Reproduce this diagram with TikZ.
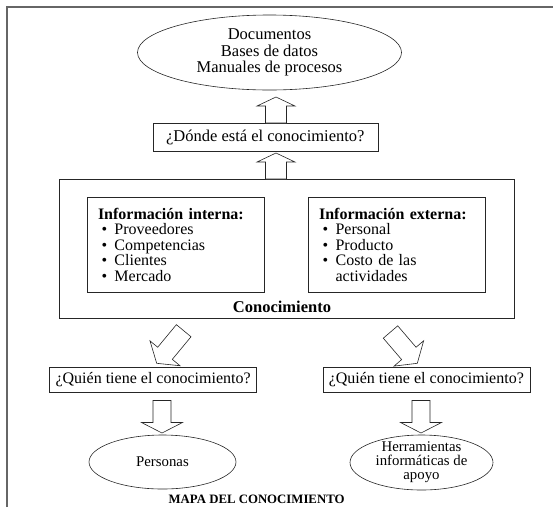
\documentclass[tikz,border=0pt]{standalone}
\usepackage{fontspec}
\setmainfont{Liberation Serif}
\usetikzlibrary{calc,shapes.geometric}
\tikzset{
  frameline/.style={draw=black!60, line width=1.4pt},
  boxstyle/.style={draw=black!85, line width=0.6pt, inner sep=0pt, outer sep=0pt},
  ellstyle/.style={draw=black!85, line width=0.6pt, ellipse, inner sep=0pt, outer sep=0pt, align=center},
  blkarrow/.style={draw=black!85, line width=0.6pt, line join=miter, fill=white},
  maintext/.style={font=\fontsize{16.5}{16.5}\selectfont},
  qtext/.style={font=\fontsize{16}{16}\selectfont},
  innertext/.style={font=\fontsize{16}{15.5}\selectfont},
  smalltext/.style={font=\fontsize{14.8}{14}\selectfont},
  infobox/.style={boxstyle, innertext, anchor=north west, minimum width=176.5pt, minimum height=95pt,
    text width=155.5pt, inner xsep=10.5pt, align=left},
}
\newcommand{\blockarr}[5]{%
  \coordinate (tmpH) at ($#2!#5pt!#1$);
  \draw[blkarrow] ($#1!#3pt!90:#2$) -- ($(tmpH)!#3pt!90:#2$) -- ($(tmpH)!#4pt!90:#2$) -- #2
    -- ($(tmpH)!#4pt!-90:#2$) -- ($(tmpH)!#3pt!-90:#2$) -- ($#1!#3pt!-90:#2$) -- cycle;}
\newcommand{\itm}[1]{\hspace*{3.5pt}\makebox[13pt][l]{\textbullet}#1}
\begin{document}
\begin{tikzpicture}[x=1pt,y=-1pt]
\useasboundingbox (0,0) rectangle (553,507);
\draw[frameline] (7,507) -- (7,7) -- (553,7);

\node[ellstyle, maintext, minimum width=264pt, minimum height=75pt] (docs) at (269.5,52.5)
  {Documentos\\Bases de datos\\Manuales de procesos};
\node[boxstyle, maintext, minimum width=225pt, minimum height=28pt] (donde) at (265.3,137)
  {¿Dónde está el conocimiento?};
\node[boxstyle, minimum width=455pt, minimum height=139pt] (know) at (286.5,248.5) {};
\node[infobox] (intern) at (87.5,197)
  {\textbf{Información interna:}\\ \itm{Proveedores}\\ \itm{Competencias}\\ \itm{Clientes}\\ \itm{Mercado}};
\node[infobox] (extern) at (308.6,197)
  {\textbf{Información externa:}\\ \itm{Personal}\\ \itm{Producto}\\ \itm{Costo de las}\\ \hspace*{16.5pt}actividades};
\node[font=\bfseries\fontsize{16.5}{16.5}\selectfont, inner sep=0pt] (conlabel) at (282,307) {Conocimiento};

\node[boxstyle, qtext, minimum width=207pt, minimum height=25pt] (q1) at (153.1,380) {¿Quién tiene el conocimiento?};
\node[boxstyle, qtext, minimum width=207pt, minimum height=25pt] (q2) at (426.3,380) {¿Quién tiene el conocimiento?};

\node[ellstyle, smalltext, minimum width=147pt, minimum height=54pt] (pers) at (162.5,462) {Personas};
\node[ellstyle, smalltext, inner sep=-1.5pt, minimum width=143pt, minimum height=55pt] (herr) at (421.5,462.5)
  {Herramientas\\informáticas de\\apoyo};

\node[font=\bfseries\fontsize{12.8}{12.8}\selectfont, inner sep=0pt] (cap) at (256.6,499) {MAPA DEL CONOCIMIENTO};

% up arrows
\coordinate (ax) at (276,0);
\coordinate (a1s) at (donde.north -| ax);
\coordinate (a1e) at ($(a1s)+(0,-26)$);
\blockarr{(a1s)}{(a1e)}{10.5}{19}{9}
\coordinate (a2s) at (know.north -| ax);
\coordinate (a2e) at ($(a2s)+(0,-26)$);
\blockarr{(a2s)}{(a2e)}{10.5}{19}{9}

% diagonal arrows
\coordinate (d1s) at (183.7,330.7);
\coordinate (d1e) at (156.7,363.3);
\blockarr{(d1s)}{(d1e)}{9.5}{19.5}{13}
\coordinate (d2s) at (390.5,332);
\coordinate (d2e) at (417.3,363.3);
\blockarr{(d2s)}{(d2e)}{9.5}{19.5}{13}

% down arrows
\coordinate (bx1) at (162,0);
\coordinate (b1s) at ($(q1.south -| bx1)+(0,8)$);
\coordinate (b1e) at ($(b1s)+(0,32.5)$);
\blockarr{(b1s)}{(b1e)}{9}{20.5}{10.5}
\coordinate (bx2) at (421,0);
\coordinate (b2s) at ($(q2.south -| bx2)+(0,8)$);
\coordinate (b2e) at ($(b2s)+(0,32.5)$);
\blockarr{(b2s)}{(b2e)}{9}{20.5}{10.5}
\end{tikzpicture}
\end{document}
